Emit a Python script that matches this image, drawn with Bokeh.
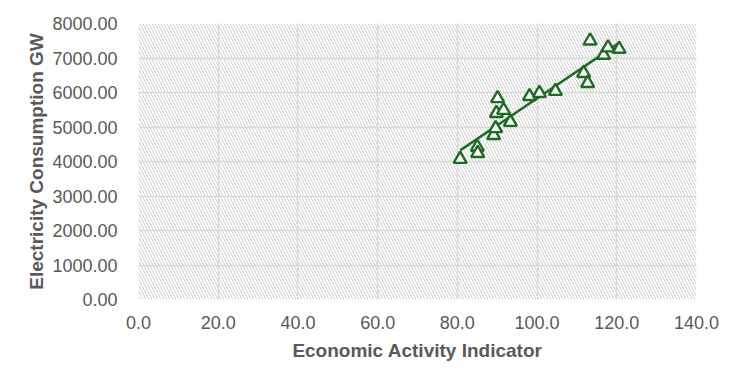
import numpy as np
from bokeh.plotting import figure
from bokeh.models import Range1d, SingleIntervalTicker, NumeralTickFormatter, BoxAnnotation
from bokeh.embed import file_html
from bokeh.resources import INLINE

# Data
activity = [80.7, 85.0, 85.1, 89.1, 89.6, 90.1, 89.8, 91.6, 93.3, 98.1,
            100.6, 104.6, 111.7, 112.7, 113.3, 116.7, 117.8, 120.6]
consumption = [4070, 4420, 4240, 4760, 4960, 5830, 5400, 5490, 5140, 5890,
               5980, 6040, 6560, 6270, 7500, 7085, 7300, 7260]

x_title = "Economic Activity Indicator"
y_title = "Electricity Consumption GW"

GREEN = "#1e6b24"
TEXT = "#595959"
GRID = "#d9d9d9"
FONT = "Liberation Sans"

p = figure(width=727, height=371, output_backend="svg", toolbar_location=None,
           x_range=Range1d(0, 140), y_range=Range1d(0, 8000),
           min_border_left=138, min_border_right=31, min_border_top=23, min_border_bottom=72)
p.outline_line_color = None
p.background_fill_color = "white"
p.border_fill_color = "white"

# hatched plot area
bg = BoxAnnotation(fill_color="white", fill_alpha=1.0, line_color=None,
                   hatch_pattern="left_diagonal_line", hatch_color="#d0d0d0",
                   hatch_weight=1.0, hatch_scale=6, level="image")
p.add_layout(bg)

p.xaxis.ticker = SingleIntervalTicker(interval=20)
p.yaxis.ticker = SingleIntervalTicker(interval=1000)
p.xaxis.formatter = NumeralTickFormatter(format="0.0")
p.yaxis.formatter = NumeralTickFormatter(format="0.00")

for ax in (p.xaxis, p.yaxis):
    ax.axis_line_color = None
    ax.major_tick_line_color = None
    ax.minor_tick_line_color = None
    ax.major_label_text_font = FONT
    ax.major_label_text_font_size = "18px"
    ax.major_label_text_color = TEXT
    ax.axis_label_text_font = FONT
    ax.axis_label_text_font_size = "19px"
    ax.axis_label_text_font_style = "bold"
    ax.axis_label_text_color = TEXT

p.xaxis.axis_label = x_title
p.yaxis.axis_label = y_title
p.xaxis.major_label_standoff = 10
p.yaxis.major_label_standoff = 15
p.xaxis.axis_label_standoff = 8
p.yaxis.axis_label_standoff = 2

p.xgrid.grid_line_color = GRID
p.ygrid.grid_line_color = GRID
p.xgrid.grid_line_width = 1.5
p.ygrid.grid_line_width = 1.5

# linear trend line (least squares fit of the data)
xa = np.array(activity)
ya = np.array(consumption)
k, b = np.polyfit(xa, ya, 1)
tx = [xa.min(), xa.max()]
ty = [k * v + b for v in tx]
p.line(tx, ty, line_color=GREEN, line_width=2.5)

p.scatter(activity, consumption, marker="triangle", size=13,
          line_color=GREEN, line_width=2.4, fill_color="white")

open("out.html", "w").write(file_html(p, INLINE))
